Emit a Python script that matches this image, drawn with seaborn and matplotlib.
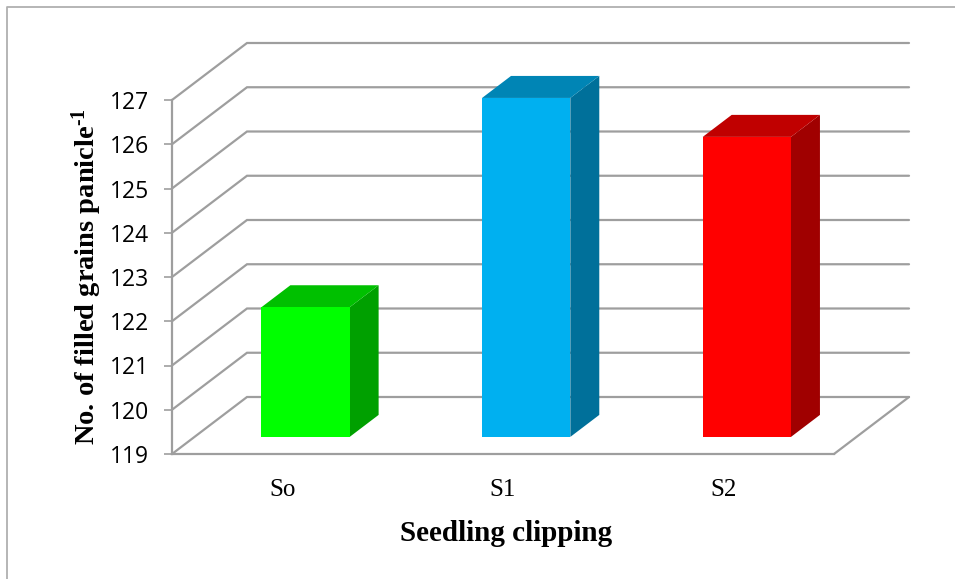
import matplotlib
matplotlib.use("Agg")
import matplotlib.pyplot as plt
import seaborn as sns
from matplotlib.lines import Line2D
from matplotlib.transforms import ScaledTranslation

categories = ["So", "S1", "S2"]
values = [121.93, 126.66, 125.78]
y_ticks = [119, 120, 121, 122, 123, 124, 125, 126, 127]
front_colors = ["#00ff00", "#00b0f0", "#ff0000"]
side_colors = ["#00a000", "#00709a", "#a00000"]
top_colors = ["#00c000", "#0085b5", "#c00000"]

W, H = 955, 579
DPI = 100
GRID = "#9e9e9e"
AX_L, AX_R, AX_T, AX_B = 172, 834, 100, 454
DEPTH_PX = (75, 57)
BAR_D0, BAR_D1 = 0.30, 0.686
BAR_WIDTH = 0.40

sns.set_theme(style="white")
plt.rcParams["font.family"] = ["Open Sans", "DejaVu Sans"]
plt.rcParams["mathtext.fontset"] = "custom"
plt.rcParams["mathtext.rm"] = "Liberation Serif:bold"
plt.rcParams["mathtext.default"] = "rm"

fig = plt.figure(figsize=(W / DPI, H / DPI), dpi=DPI, facecolor="white")
ax = fig.add_axes([AX_L / W, 1 - AX_B / H, (AX_R - AX_L) / W, (AX_B - AX_T) / H])

sns.barplot(x=categories, y=values, hue=categories, palette=front_colors,
            width=BAR_WIDTH, dodge=False, legend=False, linewidth=0, saturation=1, ax=ax, zorder=4)

ax.set_xlim(-0.5, 2.5)
ax.set_ylim(y_ticks[0], y_ticks[-1])

ux = DEPTH_PX[0] / ((AX_R - AX_L) / 3)
uy = DEPTH_PX[1] / ((AX_B - AX_T) / (y_ticks[-1] - y_ticks[0]))


def proj(x, y, d):
    return x + d * ux, y + d * uy


# walls and floor
for t in y_ticks:
    p0 = proj(-0.5, t, 0)
    p1 = proj(-0.5, t, 1)
    p2 = proj(2.5, t, 1)
    ax.plot([p0[0], p1[0], p2[0]], [p0[1], p1[1], p2[1]], color=GRID, lw=1.6,
            clip_on=False, zorder=1, solid_joinstyle="miter")
p0 = proj(2.5, y_ticks[0], 0)
p1 = proj(2.5, y_ticks[0], 1)
ax.plot([p0[0], p1[0]], [p0[1], p1[1]], color=GRID, lw=1.6, clip_on=False, zorder=1)

# bars: front faces come from seaborn; side and top faces are projected from the same values
nudge = ScaledTranslation(0.7 / DPI, 0, fig.dpi_scale_trans)
front_shift = ScaledTranslation((BAR_D0 * DEPTH_PX[0] + 0.7) / DPI, BAR_D0 * DEPTH_PX[1] / DPI, fig.dpi_scale_trans)
for i, (patch, v) in enumerate(zip(ax.patches, values)):
    patch.set_y(y_ticks[0])
    patch.set_height(v - y_ticks[0])
    patch.set_transform(ax.transData + front_shift)
    patch.set_clip_on(False)
    xl, xr = i - BAR_WIDTH / 2, i + BAR_WIDTH / 2
    y0 = y_ticks[0]
    side = [proj(xr, y0, BAR_D0), proj(xr, v, BAR_D0), proj(xr, v, BAR_D1), proj(xr, y0, BAR_D1)]
    top = [proj(xl, v, BAR_D0), proj(xr, v, BAR_D0), proj(xr, v, BAR_D1), proj(xl, v, BAR_D1)]
    ax.fill(*zip(*side), color=side_colors[i], lw=0, clip_on=False, zorder=3, transform=ax.transData + nudge)
    ax.fill(*zip(*top), color=top_colors[i], lw=0, clip_on=False, zorder=3, transform=ax.transData + nudge)

ax.set_xlim(-0.5, 2.5)
ax.set_ylim(y_ticks[0], y_ticks[-1])
ax.patch.set_visible(False)
sns.despine(ax=ax, top=True, right=True)
for s in ("left", "bottom"):
    ax.spines[s].set_color(GRID)
    ax.spines[s].set_linewidth(1.6)

ax.set_yticks(y_ticks)
ax.tick_params(axis="y", length=5.5, width=1.2, color=GRID, left=True, pad=11,
               labelsize=16.5, labelcolor="black")
ax.set_xticks(range(len(categories)))
ax.set_xticklabels(categories, fontfamily=["Liberation Serif"], fontsize=18, color="black")
ax.tick_params(axis="x", length=0, pad=18)

ax.set_xlabel("Seedling clipping", fontfamily=["Liberation Serif"], fontweight="bold",
              fontsize=21, color="black", labelpad=14)
ax.xaxis.label.set_x(0.505)
ax.set_ylabel(r"No. of filled grains panicle$^{\text{-}1}$", fontfamily=["Liberation Serif"], fontweight="bold",
              fontsize=20.5, color="black", labelpad=4)

fig.add_artist(Line2D([7 / W, 7 / W, 1], [0, 1 - 7 / H, 1 - 7 / H], color="#b0b0b0", lw=1.3,
                      transform=fig.transFigure))

fig.savefig("out.png", dpi=DPI, facecolor="white")
